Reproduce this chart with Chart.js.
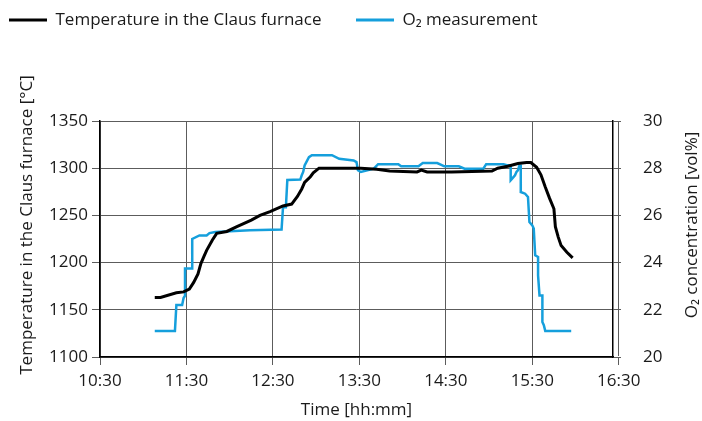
<!DOCTYPE html>
<html>
<head>
<meta charset="utf-8">
<title>Claus furnace</title>
<script src="https://cdn.jsdelivr.net/npm/chart.js@4.4.1/dist/chart.umd.min.js"></script>
<style>
  html, body { margin: 0; padding: 0; background: #fff; }
</style>
</head>
<body>
<canvas id="furnace" width="702" height="421"></canvas>
<script>
// x axis labels
const timeTicks = ['10:30', '11:30', '12:30', '13:30', '14:30', '15:30', '16:30'];

// furnace temperature [°C]
const tempTimes = ['11:08', '11:12', '11:23', '11:28', '11:32', '11:35', '11:38', '11:40', '11:42', '11:44',
  '11:48', '11:51', '11:58', '12:05', '12:15', '12:21', '12:28', '12:37', '12:43', '12:47',
  '12:50', '12:52', '12:56', '12:58', '13:02', '13:31', '13:42', '13:51', '14:10', '14:13',
  '14:17', '14:34', '15:02', '15:06', '15:13', '15:20', '15:26', '15:29', '15:33', '15:36',
  '15:39', '15:42', '15:45', '15:46', '15:48', '15:50', '15:54', '15:58'];
const tempValues = [1163, 1163, 1168, 1169, 1172, 1179, 1188, 1199, 1206, 1213,
  1224, 1231, 1233, 1238, 1245, 1250, 1254, 1260, 1262, 1270,
  1278, 1285, 1291, 1295, 1300, 1300, 1299, 1297, 1296, 1298,
  1296, 1296, 1297, 1300, 1302, 1305, 1306, 1306, 1301, 1293,
  1280, 1268, 1257, 1238, 1227, 1218, 1211, 1205];

// O2 concentration [vol%]
const o2Times = ['11:08', '11:22', '11:23', '11:27', '11:28', '11:29', '11:29', '11:34', '11:34', '11:39',
  '11:44', '11:46', '11:50', '12:14', '12:36', '12:37', '12:39', '12:40', '12:49', '12:50',
  '12:51', '12:52', '12:55', '12:57', '13:11', '13:16', '13:26', '13:28', '13:29', '13:31',
  '13:40', '13:43', '13:57', '13:59', '14:11', '14:14', '14:24', '14:29', '14:39', '14:43',
  '14:56', '14:58', '15:10', '15:13', '15:15', '15:15', '15:16', '15:18', '15:19', '15:20',
  '15:21', '15:22', '15:22', '15:25', '15:27', '15:28', '15:30', '15:31', '15:32', '15:34',
  '15:34', '15:35', '15:37', '15:37', '15:38', '15:39', '15:57'];
const o2Values = [21.1, 21.1, 22.2, 22.2, 22.5, 22.6, 23.75, 23.75, 25.0, 25.15,
  25.15, 25.25, 25.3, 25.37, 25.4, 26.35, 26.35, 27.5, 27.52, 27.7,
  27.84, 28.12, 28.47, 28.55, 28.55, 28.4, 28.33, 28.26, 27.91, 27.84,
  27.98, 28.17, 28.17, 28.08, 28.08, 28.22, 28.22, 28.08, 28.08, 27.98,
  27.98, 28.17, 28.17, 28.12, 28.12, 27.49, 27.56, 27.7, 27.84, 27.91,
  28.1, 28.1, 26.99, 26.92, 26.78, 25.72, 25.58, 25.44, 24.31, 24.24,
  23.46, 22.61, 22.61, 21.48, 21.35, 21.1, 21.1];

const toMin = s => {
  const [h, m, sec] = s.split(':').map(Number);
  return h * 60 + m + (sec || 0) / 60;
};
const toPoints = (times, vals) => times.map((t, i) => ({ x: toMin(t), y: vals[i] }));

const FONT = "'Open Sans', 'Liberation Sans', sans-serif";
const INK = '#1a1a1a';
const GRID = '#5c5c5c';

Chart.defaults.font.family = FONT;
Chart.defaults.font.size = 17;
Chart.defaults.color = INK;

// vertical axis titles, both read bottom-to-top
const sideTitles = {
  id: 'sideTitles',
  afterDraw(chart) {
    const ctx = chart.ctx;
    const put = (text, x, y) => {
      ctx.save();
      ctx.translate(x, y);
      ctx.rotate(-Math.PI / 2);
      ctx.font = '17px ' + FONT;
      ctx.fillStyle = INK;
      ctx.textAlign = 'center';
      ctx.textBaseline = 'middle';
      ctx.fillText(text, 0, 0);
      ctx.restore();
    };
    put('Temperature in the Claus furnace [°C]', 27, 225);
    put('O\u2082 concentration [vol%]', 692, 225);
  }
};

// push the plot down below the legend
const legendGap = {
  id: 'legendGap',
  beforeInit(chart) {
    const fit = chart.legend.fit;
    chart.legend.fit = function () {
      fit.bind(chart.legend)();
      this.height = 118.5;
    };
  }
};

new Chart(document.getElementById('furnace'), {
  type: 'line',
  data: {
    datasets: [
      {
        label: 'Temperature in the Claus furnace',
        data: toPoints(tempTimes, tempValues),
        borderColor: '#000',
        backgroundColor: '#000',
        borderWidth: 3,
        pointRadius: 0,
        tension: 0,
        yAxisID: 'y'
      },
      {
        label: 'O\u2082 measurement',
        data: toPoints(o2Times, o2Values),
        borderColor: '#159fdc',
        backgroundColor: '#159fdc',
        borderWidth: 2.5,
        pointRadius: 0,
        tension: 0,
        yAxisID: 'y2'
      }
    ]
  },
  options: {
    responsive: false,
    animation: false,
    layout: { padding: { top: 2.5, left: 0, right: 0, bottom: 0 } },
    plugins: {
      tooltip: { enabled: false },
      legend: {
        position: 'top',
        align: 'start',
        labels: {
          boxWidth: 38,
          boxHeight: 3,
          padding: 9,
          color: INK,
          generateLabels(chart) {
            const items = Chart.defaults.plugins.legend.labels.generateLabels(chart);
            items.forEach(it => { it.fillStyle = it.strokeStyle; it.lineWidth = 0; });
            items[0].text += '\u2003\u2002';
            return items;
          }
        }
      }
    },
    scales: {
      x: {
        type: 'linear',
        min: toMin('10:30'),
        max: 986,
        afterBuildTicks(scale) {
          scale.ticks = timeTicks.map(t => ({ value: toMin(t) }));
        },
        afterFit(scale) { scale.height = 64; },
        ticks: {
          autoSkip: false,
          maxRotation: 0,
          padding: 6,
          color: INK,
          callback: (v, i) => timeTicks[i]
        },
        grid: { color: GRID, lineWidth: 1, tickLength: 8 },
        border: { color: '#000', width: 1.5 },
        title: {
          display: true,
          text: 'Time [hh:mm]',
          color: INK,
          padding: { top: 0, bottom: 0.5 }
        }
      },
      y: {
        position: 'left',
        min: 1100,
        max: 1350,
        afterFit(scale) { scale.width = 100; },
        ticks: { stepSize: 50, padding: 4, color: INK, callback: v => String(v) },
        grid: { color: GRID, lineWidth: 1, tickLength: 8 },
        border: { color: '#000', width: 1.5 }
      },
      y2: {
        position: 'right',
        min: 20,
        max: 30,
        afterFit(scale) { scale.width = 89; },
        ticks: { stepSize: 2, padding: 22, color: INK, callback: v => String(v) },
        grid: { drawOnChartArea: false, color: GRID, lineWidth: 1, tickLength: 8 },
        border: { color: '#000', width: 1.5 }
      }
    }
  },
  plugins: [legendGap, sideTitles]
});
</script>
</body>
</html>
